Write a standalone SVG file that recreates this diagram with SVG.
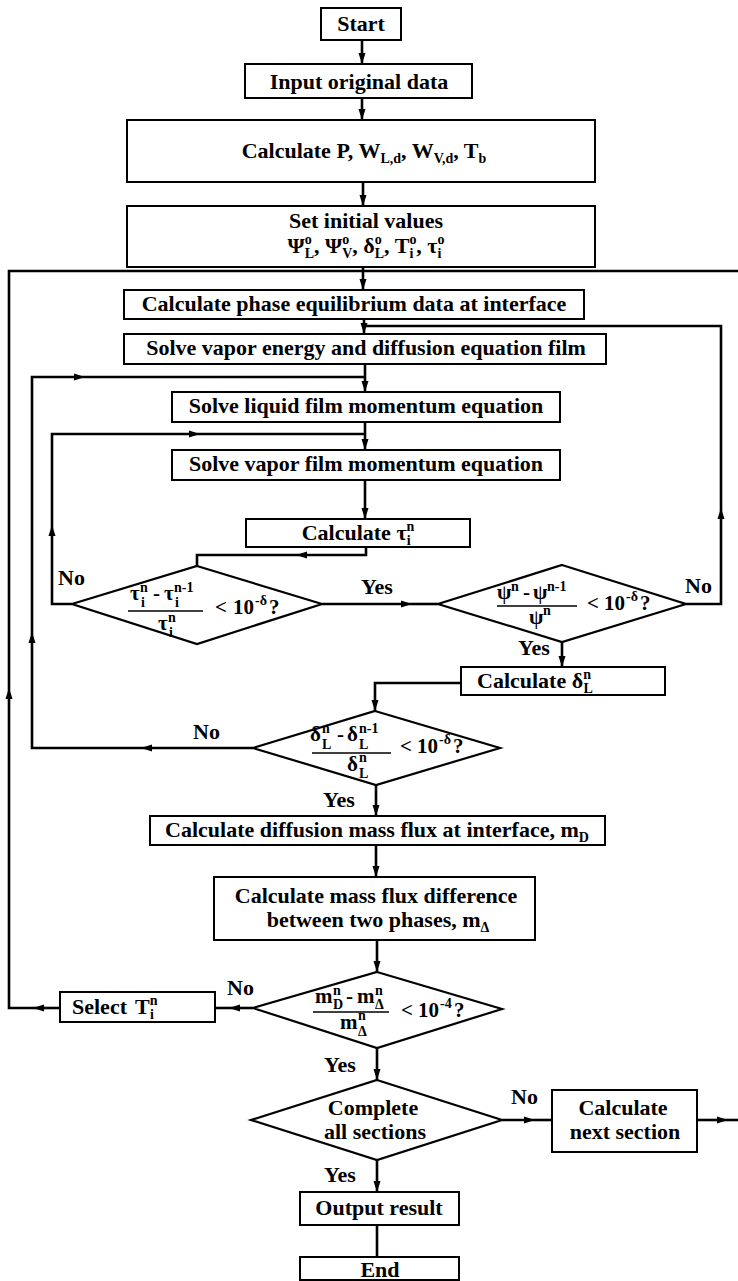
<svg xmlns="http://www.w3.org/2000/svg" width="738" height="1281" viewBox="0 0 738 1281">
<style>
.b{fill:#fff;stroke:#000;stroke-width:2}
.d{fill:#fff;stroke:#000;stroke-width:2.2}
.c{fill:none;stroke:#000;stroke-width:2.6}
.t{font-family:"Liberation Serif","Times New Roman",serif;font-weight:bold;font-size:22px;fill:#000}
.m{font-family:"Liberation Serif","Times New Roman",serif;font-weight:bold;font-size:21px;fill:#000}
.s{font-size:14px}
.bar{stroke:#000;stroke-width:1.6}
</style>
<defs>
<marker id="ah" markerUnits="userSpaceOnUse" markerWidth="12" markerHeight="10" refX="11" refY="5" orient="auto"><path d="M0,1.5 L11,5 L0,8.5 Z" fill="#000"/></marker>
</defs>
<rect width="738" height="1281" fill="#fff"/>
<g id="connectors">
<path class="c" d="M362,40 V64" marker-end="url(#ah)"/>
<path class="c" d="M362,98 V120" marker-end="url(#ah)"/>
<path class="c" d="M363,182 V206" marker-end="url(#ah)"/>
<path class="c" d="M363,267 V290" marker-end="url(#ah)"/>
<path class="c" d="M60,1008 H33" marker-end="url(#ah)"/>
<path class="c" d="M33,1008 H9 V688" marker-end="url(#ah)"/>
<path class="c" d="M9,688 V271 H738"/>
<path class="c" d="M364,319 V334" marker-end="url(#ah)"/>
<path class="c" d="M686,604 H721 V508" marker-end="url(#ah)"/>
<path class="c" d="M721,508 V326 H364"/>
<path class="c" d="M365,364 V392" marker-end="url(#ah)"/>
<path class="c" d="M253,748 H141" marker-end="url(#ah)"/>
<path class="c" d="M141,748 H32 V632" marker-end="url(#ah)"/>
<path class="c" d="M32,632 V377 H85" marker-end="url(#ah)"/>
<path class="c" d="M85,377 H365"/>
<path class="c" d="M365,422 V450" marker-end="url(#ah)"/>
<path class="c" d="M72,604 H52 V525" marker-end="url(#ah)"/>
<path class="c" d="M52,525 V434 H200" marker-end="url(#ah)"/>
<path class="c" d="M200,434 H365"/>
<path class="c" d="M365,480 V519" marker-end="url(#ah)"/>
<path class="c" d="M366,547 V555 H296" marker-end="url(#ah)"/>
<path class="c" d="M296,555 H197 V566"/>
<path class="c" d="M322,604 H412" marker-end="url(#ah)"/>
<path class="c" d="M412,604 H438"/>
<path class="c" d="M562,642 V667" marker-end="url(#ah)"/>
<path class="c" d="M461,683 H375 V711" marker-end="url(#ah)"/>
<path class="c" d="M376,785 V816" marker-end="url(#ah)"/>
<path class="c" d="M376,845 V877" marker-end="url(#ah)"/>
<path class="c" d="M377,940 V972" marker-end="url(#ah)"/>
<path class="c" d="M253,1008 H229" marker-end="url(#ah)"/>
<path class="c" d="M229,1008 H215"/>
<path class="c" d="M377,1048 V1080" marker-end="url(#ah)"/>
<path class="c" d="M502,1120 H535" marker-end="url(#ah)"/>
<path class="c" d="M535,1120 H552"/>
<path class="c" d="M697,1120 H728" marker-end="url(#ah)"/>
<path class="c" d="M728,1120 H738"/>
<path class="c" d="M377,1160 V1192" marker-end="url(#ah)"/>
<path class="c" d="M377,1225 V1257"/>
</g>
<g id="start">
<rect class="b" x="321" y="8" width="80" height="32"/>
<text class="t" x="361" y="31" text-anchor="middle">Start</text>
</g>
<g id="input">
<rect class="b" x="245" y="64" width="227" height="34"/>
<text class="t" x="359" y="89" text-anchor="middle">Input original data</text>
</g>
<g id="calcP">
<rect class="b" x="127" y="120" width="468" height="62"/>
<text class="t" x="364" y="158" text-anchor="middle">Calculate P, W<tspan class="s" dy="5">L,d</tspan><tspan dy="-5">, W</tspan><tspan class="s" dy="5">V,d</tspan><tspan dy="-5">, T</tspan><tspan class="s" dy="5">b</tspan></text>
</g>
<g id="init">
<rect class="b" x="127" y="206" width="468" height="61"/>
<text class="t" x="366" y="228" text-anchor="middle">Set initial values</text>
<text class="t" x="366" y="253" text-anchor="middle">Ψ<tspan class="s" dy="-9">o</tspan><tspan class="s" dx="-7" dy="14">L</tspan><tspan dy="-5">, Ψ</tspan><tspan class="s" dy="-9">o</tspan><tspan class="s" dx="-7" dy="14">V</tspan><tspan dy="-5">, δ</tspan><tspan class="s" dy="-9">o</tspan><tspan class="s" dx="-7" dy="14">L</tspan><tspan dy="-5">, T</tspan><tspan class="s" dy="-9">o</tspan><tspan class="s" dx="-7" dy="14">i</tspan><tspan dx="3" dy="-5">, τ</tspan><tspan class="s" dy="-9">o</tspan><tspan class="s" dx="-7" dy="14">i</tspan></text>
</g>
<g id="phaseEq">
<rect class="b" x="124" y="290" width="460" height="29"/>
<text class="t" x="354" y="311" text-anchor="middle">Calculate phase equilibrium data at interface</text>
</g>
<g id="vaporEnergy">
<rect class="b" x="124" y="334" width="482" height="30"/>
<text class="t" x="366" y="355" text-anchor="middle">Solve vapor energy and diffusion equation film</text>
</g>
<g id="liquidMom">
<rect class="b" x="172" y="392" width="388" height="30"/>
<text class="t" x="366" y="413" text-anchor="middle">Solve liquid film momentum equation</text>
</g>
<g id="vaporMom">
<rect class="b" x="172" y="450" width="388" height="30"/>
<text class="t" x="366" y="471" text-anchor="middle">Solve vapor film momentum equation</text>
</g>
<g id="calcTau">
<rect class="b" x="246" y="519" width="224" height="28"/>
<text class="t" x="358" y="540" text-anchor="middle">Calculate τ<tspan class="s" dy="-9">n</tspan><tspan class="s" dx="-7.5" dy="14">i</tspan></text>
</g>
<g id="decTau">
<polygon class="d" points="197,566 322,604 197,644 72,604"/>
<text class="m"><tspan x="130" y="600">τ</tspan><tspan class="s" x="140" y="592">n</tspan><tspan class="s" x="141" y="607">i</tspan><tspan x="153" y="600">-</tspan><tspan x="164" y="600">τ</tspan><tspan class="s" x="174" y="592">n-1</tspan><tspan class="s" x="175" y="607">i</tspan></text>
<line class="bar" x1="128" y1="611" x2="203" y2="611"/>
<text class="m"><tspan x="158" y="630">τ</tspan><tspan class="s" x="168" y="622">n</tspan><tspan class="s" x="169" y="637">i</tspan></text>
<text class="m"><tspan x="215" y="614">&lt;</tspan><tspan x="233" y="614">10</tspan><tspan class="s" x="255" y="605">-δ</tspan><tspan x="269" y="614">?</tspan></text>
<text class="t" x="58" y="585">No</text>
</g>
<g id="decPsi">
<polygon class="d" points="562,565 686,604 562,642 438,604"/>
<text class="m"><tspan x="497" y="599">ψ</tspan><tspan class="s" x="511" y="591">n</tspan><tspan x="523" y="599">-</tspan><tspan x="533" y="599">ψ</tspan><tspan class="s" x="547" y="591">n-1</tspan></text>
<line class="bar" x1="497" y1="606" x2="577" y2="606"/>
<text class="m"><tspan x="529" y="624">ψ</tspan><tspan class="s" x="543" y="615">n</tspan></text>
<text class="m"><tspan x="587" y="610">&lt;</tspan><tspan x="604" y="610">10</tspan><tspan class="s" x="626" y="601">-δ</tspan><tspan x="640" y="610">?</tspan></text>
<text class="t" x="377" y="594" text-anchor="middle">Yes</text>
<text class="t" x="685" y="593">No</text>
<text class="t" x="534" y="655" text-anchor="middle">Yes</text>
</g>
<g id="calcDelta">
<rect class="b" x="461" y="667" width="204" height="28"/>
<text class="t" x="477" y="688">Calculate δ<tspan class="s" dy="-9">n</tspan><tspan class="s" dx="-7.5" dy="14">L</tspan></text>
</g>
<g id="decDelta">
<polygon class="d" points="375,711 500,748 376,785 253,748"/>
<text class="m"><tspan x="310" y="741">δ</tspan><tspan class="s" x="322" y="733">n</tspan><tspan class="s" x="322" y="749">L</tspan><tspan x="337" y="741">-</tspan><tspan x="347" y="741">δ</tspan><tspan class="s" x="359" y="733">n-1</tspan><tspan class="s" x="359" y="749">L</tspan></text>
<line class="bar" x1="312" y1="753" x2="391" y2="753"/>
<text class="m"><tspan x="347" y="771">δ</tspan><tspan class="s" x="359" y="762">n</tspan><tspan class="s" x="359" y="778">L</tspan></text>
<text class="m"><tspan x="400" y="753">&lt;</tspan><tspan x="417" y="753">10</tspan><tspan class="s" x="439" y="744">-δ</tspan><tspan x="453" y="753">?</tspan></text>
<text class="t" x="193" y="739">No</text>
<text class="t" x="339" y="807" text-anchor="middle">Yes</text>
</g>
<g id="diffFlux">
<rect class="b" x="150" y="816" width="455" height="29"/>
<text class="t" x="377" y="837" text-anchor="middle">Calculate diffusion mass flux at interface, m<tspan class="s" dy="5">D</tspan></text>
</g>
<g id="fluxDiff">
<rect class="b" x="214" y="877" width="321" height="63"/>
<text class="t" x="376" y="903" text-anchor="middle">Calculate mass flux difference</text>
<text class="t" x="378" y="927" text-anchor="middle">between two phases, m<tspan class="s" dy="5">Δ</tspan></text>
</g>
<g id="decFlux">
<polygon class="d" points="377,972 502,1009 377,1048 253,1008"/>
<text class="m"><tspan x="315" y="1003">m</tspan><tspan class="s" x="333" y="995">n</tspan><tspan class="s" x="333" y="1009">D</tspan><tspan x="346" y="1003">-</tspan><tspan x="357" y="1003">m</tspan><tspan class="s" x="375" y="995">n</tspan><tspan class="s" x="375" y="1009">Δ</tspan></text>
<line class="bar" x1="313" y1="1012" x2="389" y2="1012"/>
<text class="m"><tspan x="340" y="1029">m</tspan><tspan class="s" x="358" y="1020">n</tspan><tspan class="s" x="358" y="1036">Δ</tspan></text>
<text class="m"><tspan x="401" y="1017">&lt;</tspan><tspan x="418" y="1017">10</tspan><tspan class="s" x="440" y="1008">-4</tspan><tspan x="454" y="1017">?</tspan></text>
<text class="t" x="227" y="995">No</text>
<text class="t" x="340" y="1072" text-anchor="middle">Yes</text>
</g>
<g id="selectT">
<rect class="b" x="60" y="992" width="155" height="30"/>
<text class="t" x="72" y="1014">Select</text>
<text class="t" x="135" y="1014">T<tspan class="s" dy="-9">n</tspan><tspan class="s" dx="-7.5" dy="14">i</tspan></text>
</g>
<g id="decSections">
<polygon class="d" points="377,1080 502,1120 377,1160 251,1120"/>
<text class="t" x="373" y="1115" text-anchor="middle">Complete</text>
<text class="t" x="375" y="1139" text-anchor="middle">all sections</text>
<text class="t" x="511" y="1104">No</text>
<text class="t" x="340" y="1182" text-anchor="middle">Yes</text>
</g>
<g id="nextSection">
<rect class="b" x="552" y="1090" width="145" height="62"/>
<text class="t" x="623" y="1115" text-anchor="middle">Calculate</text>
<text class="t" x="625" y="1139" text-anchor="middle">next section</text>
</g>
<g id="output">
<rect class="b" x="300" y="1192" width="159" height="33"/>
<text class="t" x="379" y="1215" text-anchor="middle">Output result</text>
</g>
<g id="end">
<rect class="b" x="300" y="1257" width="159" height="23"/>
<text class="t" x="380" y="1277" text-anchor="middle">End</text>
</g>
</svg>
